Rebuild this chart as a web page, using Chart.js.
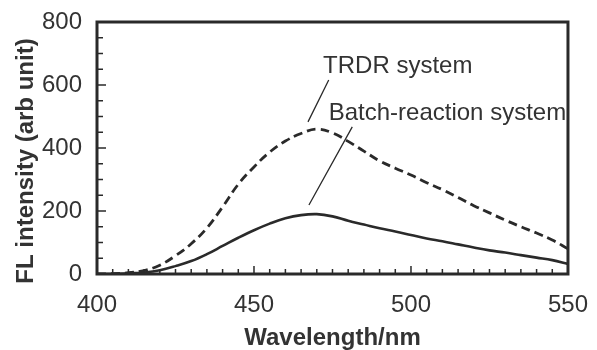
<!DOCTYPE html>
<html>
<head>
<meta charset="utf-8">
<script src="https://cdn.jsdelivr.net/npm/chart.js@4/dist/chart.umd.min.js"></script>
<style>
  body { margin: 0; background: #fff; }
  canvas { display: block; }
</style>
</head>
<body>
<canvas id="myChart" width="597" height="350"></canvas>
<script>
// wavelength (nm) and fluorescence intensity
const wavelengths = [400, 405, 410, 415, 420, 425, 430, 435, 440, 445, 450, 455, 460, 465, 470, 475,
  480, 485, 490, 495, 500, 505, 510, 515, 520, 525, 530, 535, 540, 545, 550];
const trdrSystem = [0, 1, 4, 11, 28, 58, 96, 146, 213, 285, 340, 387, 422, 446, 460, 448,
  421, 390, 359, 336, 314, 290, 268, 243, 217, 194, 171, 150, 130, 108, 80];
const batchSystem = [0, 0, 2, 5, 12, 25, 41, 63, 89, 115, 139, 160, 177, 187, 190, 183,
  169, 157, 145, 135, 124, 113, 104, 94, 84, 75, 68, 60, 52, 44, 32];
const xTicks = [400, 450, 500, 550];
const yTicks = [0, 200, 400, 600, 800];

const seriesNames = ['TRDR system', 'Batch-reaction system'];
const yTitle = 'FL intensity (arb unit)';

// label text anchors and leader lines, in data units (nm, intensity)
const labelPos = [[472, 638], [473.8, 489]];
const leaders = [
  [[473.8, 616], [467.2, 483]],
  [[481.3, 467], [467.5, 219]],
];

const ink = '#2a2a2a';
const textInk = '#333';
const fontFamily = '"Liberation Sans", Arial, sans-serif';

const toPoints = (vals) => wavelengths.map((w, i) => ({ x: w, y: vals[i] }));

const framePlugin = {
  id: 'frame',
  afterDraw(chart) {
    const { ctx, chartArea: a, scales } = chart;
    const xs = scales.x;
    const ys = scales.y;
    ctx.save();
    ctx.strokeStyle = ink;
    // inward minor/major ticks
    ctx.lineWidth = 1.5;
    ctx.beginPath();
    for (let w = 405; w < 550; w += 5) {
      const px = xs.getPixelForValue(w);
      const len = w % 50 === 0 ? 8 : 5;
      ctx.moveTo(px, a.bottom);
      ctx.lineTo(px, a.bottom - len);
    }
    for (let v = 50; v < 800; v += 50) {
      const py = ys.getPixelForValue(v);
      const len = v % 200 === 0 ? 9 : 6;
      ctx.moveTo(a.left, py);
      ctx.lineTo(a.left + len, py);
    }
    ctx.stroke();
    // frame
    ctx.lineWidth = 3;
    ctx.strokeRect(a.left, a.top, a.right - a.left, a.bottom - a.top);

    // labels with leader lines
    ctx.lineWidth = 1.3;
    ctx.beginPath();
    leaders.forEach(([p, q]) => {
      ctx.moveTo(xs.getPixelForValue(p[0]), ys.getPixelForValue(p[1]));
      ctx.lineTo(xs.getPixelForValue(q[0]), ys.getPixelForValue(q[1]));
    });
    ctx.stroke();
    ctx.fillStyle = textInk;
    ctx.font = `24px ${fontFamily}`;
    ctx.textBaseline = 'alphabetic';
    ctx.textAlign = 'left';
    seriesNames.forEach((name, i) => {
      const [w, v] = labelPos[i];
      ctx.fillText(name, xs.getPixelForValue(w), ys.getPixelForValue(v));
    });

    // y axis title, sits a little below the plot's middle in the original
    ctx.font = `bold 24px ${fontFamily}`;
    ctx.textAlign = 'center';
    ctx.textBaseline = 'middle';
    ctx.translate(26, (a.top + a.bottom) / 2 + 13);
    ctx.rotate(-Math.PI / 2);
    ctx.fillText(yTitle, 0, 0);
    ctx.restore();
  },
};

const tickFont = { family: fontFamily, size: 24 };
const titleFont = { family: fontFamily, size: 24, weight: 'bold' };

new Chart('myChart', {
  type: 'line',
  data: {
    datasets: [
      {
        label: seriesNames[0],
        data: toPoints(trdrSystem),
        borderColor: ink,
        borderWidth: 2.8,
        borderDash: [9, 5],
        pointRadius: 0,
        fill: false,
        tension: 0.4,
      },
      {
        label: seriesNames[1],
        data: toPoints(batchSystem),
        borderColor: ink,
        borderWidth: 2.6,
        pointRadius: 0,
        fill: false,
        tension: 0.4,
      },
    ],
  },
  options: {
    responsive: false,
    animation: false,
    devicePixelRatio: 1,
    layout: { padding: { top: 22, right: 20, left: 0, bottom: 0 } },
    plugins: {
      legend: { display: false },
      tooltip: { enabled: false },
    },
    scales: {
      x: {
        type: 'linear',
        min: 400,
        max: 550,
        grid: { display: false },
        border: { display: false },
        afterBuildTicks: (scale) => { scale.ticks = xTicks.map((v) => ({ value: v })); },
        afterFit: (scale) => { scale.height = 76; },
        ticks: { font: tickFont, color: textInk, padding: 9, maxRotation: 0, autoSkip: false },
        title: {
          display: true,
          text: 'Wavelength/nm',
          font: titleFont,
          color: textInk,
          padding: { top: 0, bottom: -3 },
        },
      },
      y: {
        min: 0,
        max: 800,
        grid: { display: false },
        border: { display: false },
        afterBuildTicks: (scale) => { scale.ticks = yTicks.map((v) => ({ value: v })); },
        afterFit: (scale) => { scale.width = 97; },
        ticks: { font: tickFont, color: textInk, padding: 7 },
      },
    },
  },
  plugins: [framePlugin],
});
</script>
</body>
</html>
